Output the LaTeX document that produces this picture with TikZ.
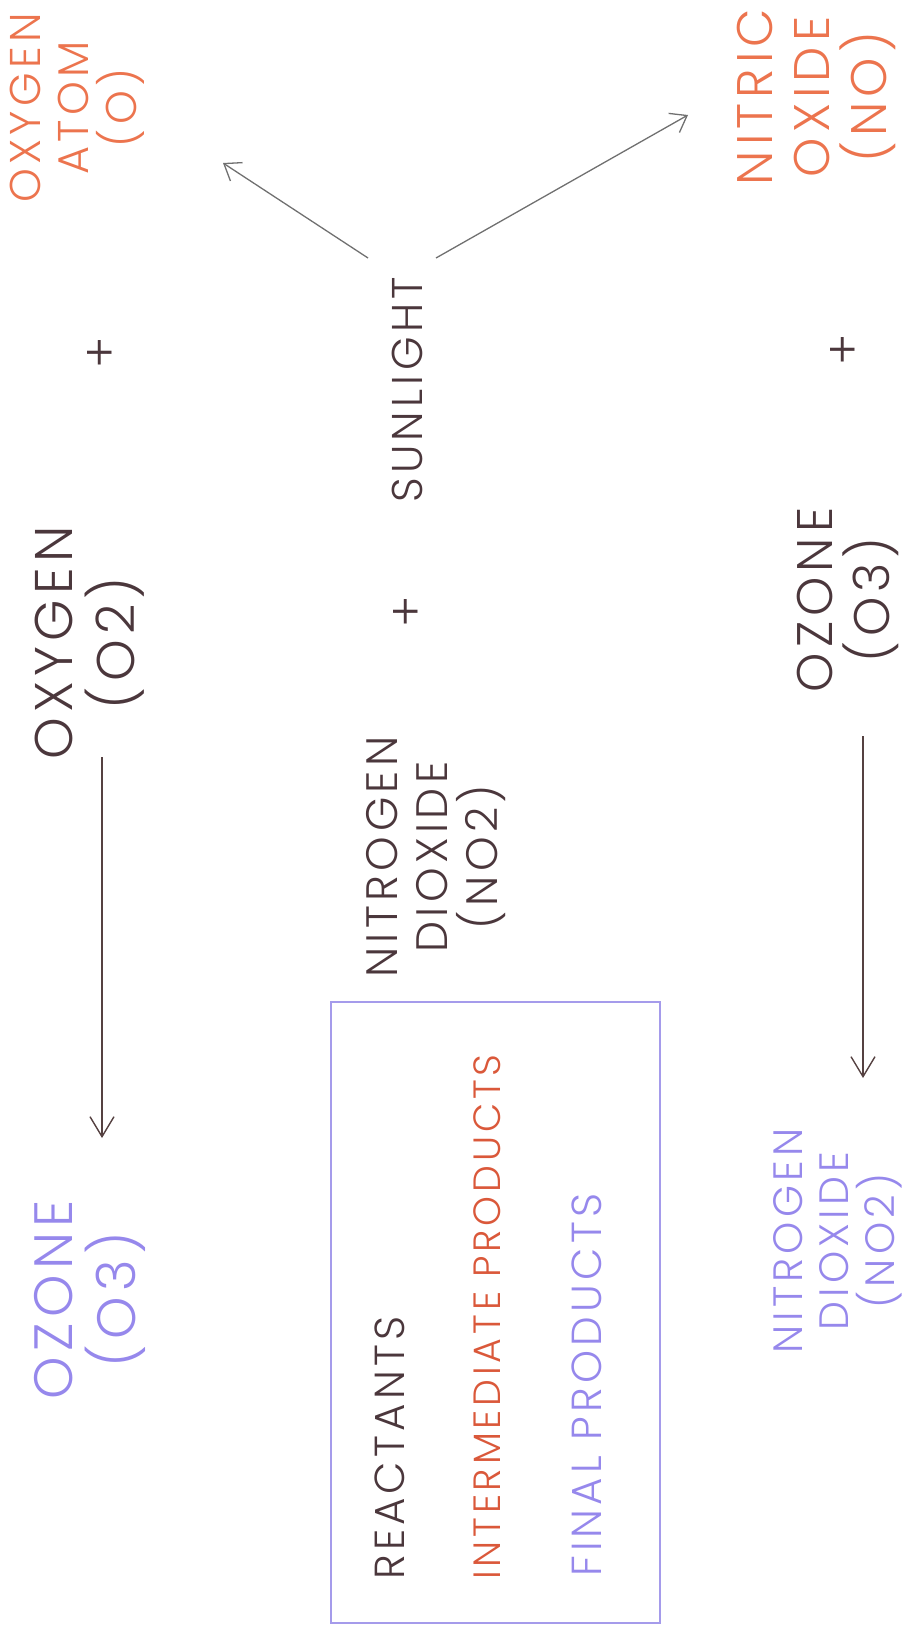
\documentclass[tikz,border=0pt]{standalone}
\usepackage{fontspec}
\usetikzlibrary{arrows.meta}
\newfontfamily\pf{Poppins Light}[LetterSpace=10]
\definecolor{txtdark}{RGB}{75,55,60}
\definecolor{txtorange}{RGB}{236,116,78}
\definecolor{txtred}{RGB}{218,88,58}
\definecolor{txtblue}{RGB}{150,136,236}
\definecolor{arrgray}{RGB}{112,112,112}
\definecolor{arrdark}{RGB}{85,65,65}
\definecolor{boxblue}{RGB}{165,155,235}
\begin{document}
\begin{tikzpicture}[x=1pt,y=-1pt,
  lbl/.style={rotate=90, align=center, inner sep=0pt},
  legend/.style={rotate=90, anchor=base west, inner sep=0pt},
  plus/.style={rotate=90, inner sep=0pt, text=txtdark, font=\pf\fontsize{48}{50}\selectfont},
  sunarrow/.style={draw=arrgray, line width=1.3pt, -{Straight Barb[length=15pt,width=22pt,line width=1.3pt]}},
  reactarrow/.style={draw=arrdark, line width=1.4pt, -{Straight Barb[length=20pt,width=24pt,line width=1.4pt]}}
]
\useasboundingbox (0,0) rectangle (906,1629);

% top row
\node[lbl, text=txtorange, font=\pf\fontsize{43}{48}\selectfont] (atom) at (77,108) {OXYGEN\\ATOM\\(O)};
\node[lbl, text=txtorange, font=\pf\fontsize{50}{57}\selectfont] (nitric) at (816,97) {NITRIC\\OXIDE\\(NO)};

\node[plus] (plusL) at (102,353) {+};
\node[plus] (plusR) at (845,350) {+};
\node[plus] (plusM) at (408,612) {+};

\node[lbl, text=txtdark, font=\pf\fontsize{43}{48}\selectfont] (sun) at (407,390) {SUNLIGHT};

\coordinate (s1) at (368,258);
\coordinate (s2) at (436,258);
\coordinate (t1) at (223,163);
\coordinate (t2) at (688,115);
\draw[sunarrow] (s1) -- (t1);
\draw[sunarrow] (s2) -- (t2);

% middle row
\node[lbl, text=txtdark, font=\pf\fontsize{53}{62}\selectfont] (oxy) at (90,643) {OXYGEN\\(O2)};
\node[lbl, text=txtdark, font=\pf\fontsize{44}{50}\selectfont] (no2) at (436,857) {NITROGEN\\DIOXIDE\\(NO2)};
\node[lbl, text=txtdark, font=\pf\fontsize{50}{57}\selectfont] (ozone) at (848,600) {OZONE\\(O3)};

% reaction arrows
\coordinate (a1s) at (102,757);
\coordinate (a1e) at (102,1138);
\coordinate (a2s) at (863,736);
\coordinate (a2e) at (863,1078);
\draw[reactarrow] (a1s) -- (a1e);
\draw[reactarrow] (a2s) -- (a2e);

% products
\node[lbl, text=txtblue, font=\pf\fontsize{54}{63}\selectfont] (ozoneP) at (90,1300) {OZONE\\(O3)};
\node[lbl, text=txtblue, font=\pf\fontsize{41}{46}\selectfont] (no2P) at (838,1241) {NITROGEN\\DIOXIDE\\(NO2)};

% legend
\node[draw=boxblue, line width=1.3pt, minimum width=329pt, minimum height=621pt, inner sep=0pt] (legendbox) at (495.5,1312.5) {};
\node[legend, text=txtdark, font=\pf\fontsize{42}{46}\selectfont] (lr) at (404,1580) {REACTANTS};
\node[legend, text=txtred, font=\pf\fontsize{38}{43}\selectfont] (li) at (500,1580) {INTERMEDIATE PRODUCTS};
\node[legend, text=txtblue, font=\pf\fontsize{42}{46}\selectfont] (lf) at (601,1577) {FINAL PRODUCTS};
\end{tikzpicture}
\end{document}
